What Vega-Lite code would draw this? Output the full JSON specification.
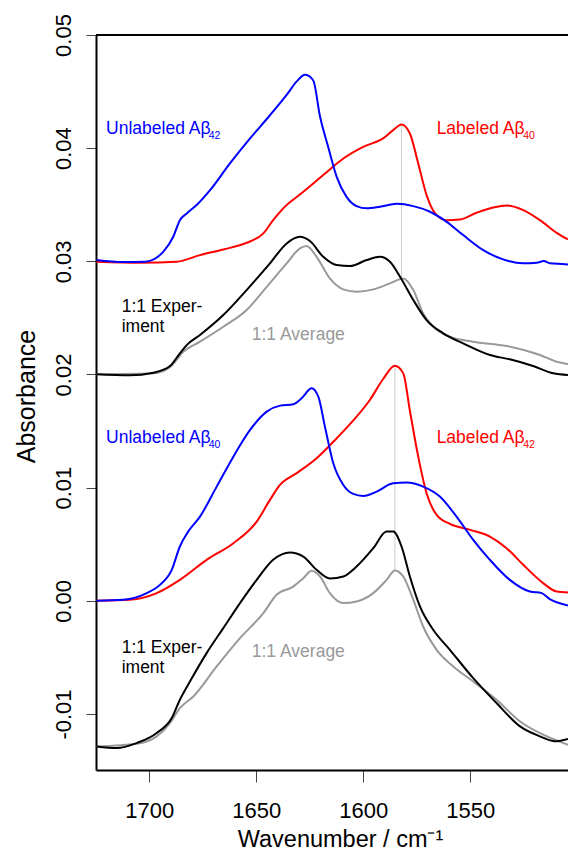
{
  "$schema": "https://vega.github.io/schema/vega-lite/v6.json",
  "width": 472,
  "height": 735,
  "autosize": {"type": "none"},
  "padding": {"left": 96, "top": 35, "right": 0, "bottom": 82},
  "background": "white",
  "config": {"view": {"stroke": null}, "font": "Liberation Sans"},
  "datasets": {
    "spectra": [
      {"panel":"a","kind":"average","wavenumber":1724.6,"absorbance":0.02002},
      {"panel":"a","kind":"average","wavenumber":1698.1,"absorbance":0.02011},
      {"panel":"a","kind":"average","wavenumber":1690.3,"absorbance":0.02064},
      {"panel":"a","kind":"average","wavenumber":1684.1,"absorbance":0.02201},
      {"panel":"a","kind":"average","wavenumber":1676.3,"absorbance":0.02290},
      {"panel":"a","kind":"average","wavenumber":1665.4,"absorbance":0.02422},
      {"panel":"a","kind":"average","wavenumber":1654.5,"absorbance":0.02570},
      {"panel":"a","kind":"average","wavenumber":1645.1,"absorbance":0.02775},
      {"panel":"a","kind":"average","wavenumber":1635.8,"absorbance":0.02982},
      {"panel":"a","kind":"average","wavenumber":1629.6,"absorbance":0.03114},
      {"panel":"a","kind":"average","wavenumber":1626.5,"absorbance":0.03135},
      {"panel":"a","kind":"average","wavenumber":1621.8,"absorbance":0.03040},
      {"panel":"a","kind":"average","wavenumber":1615.6,"absorbance":0.02849},
      {"panel":"a","kind":"average","wavenumber":1609.3,"absorbance":0.02752},
      {"panel":"a","kind":"average","wavenumber":1603.1,"absorbance":0.02731},
      {"panel":"a","kind":"average","wavenumber":1595.3,"absorbance":0.02752},
      {"panel":"a","kind":"average","wavenumber":1587.5,"absorbance":0.02805},
      {"panel":"a","kind":"average","wavenumber":1581.3,"absorbance":0.02849},
      {"panel":"a","kind":"average","wavenumber":1576.6,"absorbance":0.02746},
      {"panel":"a","kind":"average","wavenumber":1572.0,"absorbance":0.02540},
      {"panel":"a","kind":"average","wavenumber":1567.3,"absorbance":0.02422},
      {"panel":"a","kind":"average","wavenumber":1559.5,"absorbance":0.02334},
      {"panel":"a","kind":"average","wavenumber":1548.6,"absorbance":0.02290},
      {"panel":"a","kind":"average","wavenumber":1533.0,"absorbance":0.02252},
      {"panel":"a","kind":"average","wavenumber":1517.4,"absorbance":0.02172},
      {"panel":"a","kind":"average","wavenumber":1509.6,"absorbance":0.02113},
      {"panel":"a","kind":"average","wavenumber":1504.3,"absorbance":0.02093},

      {"panel":"a","kind":"experiment","wavenumber":1724.6,"absorbance":0.02002},
      {"panel":"a","kind":"experiment","wavenumber":1709.0,"absorbance":0.01993},
      {"panel":"a","kind":"experiment","wavenumber":1698.1,"absorbance":0.02016},
      {"panel":"a","kind":"experiment","wavenumber":1690.3,"absorbance":0.02075},
      {"panel":"a","kind":"experiment","wavenumber":1685.7,"absorbance":0.02187},
      {"panel":"a","kind":"experiment","wavenumber":1682.5,"absorbance":0.02260},
      {"panel":"a","kind":"experiment","wavenumber":1676.3,"absorbance":0.02349},
      {"panel":"a","kind":"experiment","wavenumber":1665.4,"absorbance":0.02525},
      {"panel":"a","kind":"experiment","wavenumber":1654.5,"absorbance":0.02746},
      {"panel":"a","kind":"experiment","wavenumber":1643.6,"absorbance":0.02982},
      {"panel":"a","kind":"experiment","wavenumber":1635.8,"absorbance":0.03158},
      {"panel":"a","kind":"experiment","wavenumber":1629.6,"absorbance":0.03217},
      {"panel":"a","kind":"experiment","wavenumber":1624.9,"absorbance":0.03179},
      {"panel":"a","kind":"experiment","wavenumber":1618.7,"absorbance":0.03040},
      {"panel":"a","kind":"experiment","wavenumber":1612.4,"absorbance":0.02967},
      {"panel":"a","kind":"experiment","wavenumber":1606.2,"absorbance":0.02958},
      {"panel":"a","kind":"experiment","wavenumber":1598.4,"absorbance":0.03011},
      {"panel":"a","kind":"experiment","wavenumber":1592.2,"absorbance":0.03040},
      {"panel":"a","kind":"experiment","wavenumber":1587.5,"absorbance":0.02996},
      {"panel":"a","kind":"experiment","wavenumber":1582.8,"absorbance":0.02864},
      {"panel":"a","kind":"experiment","wavenumber":1576.6,"absorbance":0.02658},
      {"panel":"a","kind":"experiment","wavenumber":1570.4,"absorbance":0.02481},
      {"panel":"a","kind":"experiment","wavenumber":1562.6,"absorbance":0.02364},
      {"panel":"a","kind":"experiment","wavenumber":1553.3,"absorbance":0.02275},
      {"panel":"a","kind":"experiment","wavenumber":1540.8,"absorbance":0.02172},
      {"panel":"a","kind":"experiment","wavenumber":1531.5,"absorbance":0.02134},
      {"panel":"a","kind":"experiment","wavenumber":1520.6,"absorbance":0.02075},
      {"panel":"a","kind":"experiment","wavenumber":1511.2,"absorbance":0.02011},
      {"panel":"a","kind":"experiment","wavenumber":1504.3,"absorbance":0.01996},

      {"panel":"a","kind":"labeled","wavenumber":1724.6,"absorbance":0.02996},
      {"panel":"a","kind":"labeled","wavenumber":1704.3,"absorbance":0.02987},
      {"panel":"a","kind":"labeled","wavenumber":1687.2,"absorbance":0.02996},
      {"panel":"a","kind":"labeled","wavenumber":1676.3,"absorbance":0.03055},
      {"panel":"a","kind":"labeled","wavenumber":1665.4,"absorbance":0.03105},
      {"panel":"a","kind":"labeled","wavenumber":1654.5,"absorbance":0.03164},
      {"panel":"a","kind":"labeled","wavenumber":1646.7,"absorbance":0.03247},
      {"panel":"a","kind":"labeled","wavenumber":1642.1,"absorbance":0.03364},
      {"panel":"a","kind":"labeled","wavenumber":1637.4,"absorbance":0.03468},
      {"panel":"a","kind":"labeled","wavenumber":1628.0,"absorbance":0.03614},
      {"panel":"a","kind":"labeled","wavenumber":1618.7,"absorbance":0.03762},
      {"panel":"a","kind":"labeled","wavenumber":1609.3,"absorbance":0.03909},
      {"panel":"a","kind":"labeled","wavenumber":1600.0,"absorbance":0.04012},
      {"panel":"a","kind":"labeled","wavenumber":1590.7,"absorbance":0.04086},
      {"panel":"a","kind":"labeled","wavenumber":1586.0,"absorbance":0.04159},
      {"panel":"a","kind":"labeled","wavenumber":1582.1,"absorbance":0.04209},
      {"panel":"a","kind":"labeled","wavenumber":1578.2,"absorbance":0.04130},
      {"panel":"a","kind":"labeled","wavenumber":1574.3,"absorbance":0.03865},
      {"panel":"a","kind":"labeled","wavenumber":1570.4,"absorbance":0.03585},
      {"panel":"a","kind":"labeled","wavenumber":1565.7,"absorbance":0.03408},
      {"panel":"a","kind":"labeled","wavenumber":1561.0,"absorbance":0.03364},
      {"panel":"a","kind":"labeled","wavenumber":1554.8,"absorbance":0.03370},
      {"panel":"a","kind":"labeled","wavenumber":1547.0,"absorbance":0.03429},
      {"panel":"a","kind":"labeled","wavenumber":1539.3,"absorbance":0.03476},
      {"panel":"a","kind":"labeled","wavenumber":1533.0,"absorbance":0.03494},
      {"panel":"a","kind":"labeled","wavenumber":1525.2,"absorbance":0.03453},
      {"panel":"a","kind":"labeled","wavenumber":1517.4,"absorbance":0.03364},
      {"panel":"a","kind":"labeled","wavenumber":1509.6,"absorbance":0.03252},
      {"panel":"a","kind":"labeled","wavenumber":1504.3,"absorbance":0.03194},

      {"panel":"a","kind":"unlabeled","wavenumber":1724.6,"absorbance":0.03011},
      {"panel":"a","kind":"unlabeled","wavenumber":1712.1,"absorbance":0.02993},
      {"panel":"a","kind":"unlabeled","wavenumber":1702.0,"absorbance":0.02996},
      {"panel":"a","kind":"unlabeled","wavenumber":1693.5,"absorbance":0.03084},
      {"panel":"a","kind":"unlabeled","wavenumber":1688.8,"absorbance":0.03217},
      {"panel":"a","kind":"unlabeled","wavenumber":1685.7,"absorbance":0.03364},
      {"panel":"a","kind":"unlabeled","wavenumber":1682.5,"absorbance":0.03423},
      {"panel":"a","kind":"unlabeled","wavenumber":1677.9,"absorbance":0.03497},
      {"panel":"a","kind":"unlabeled","wavenumber":1671.6,"absorbance":0.03629},
      {"panel":"a","kind":"unlabeled","wavenumber":1662.3,"absorbance":0.03865},
      {"panel":"a","kind":"unlabeled","wavenumber":1652.9,"absorbance":0.04086},
      {"panel":"a","kind":"unlabeled","wavenumber":1643.6,"absorbance":0.04291},
      {"panel":"a","kind":"unlabeled","wavenumber":1635.8,"absorbance":0.04470},
      {"panel":"a","kind":"unlabeled","wavenumber":1631.1,"absorbance":0.04590},
      {"panel":"a","kind":"unlabeled","wavenumber":1627.2,"absorbance":0.04648},
      {"panel":"a","kind":"unlabeled","wavenumber":1623.4,"absorbance":0.04600},
      {"panel":"a","kind":"unlabeled","wavenumber":1620.2,"absorbance":0.04280},
      {"panel":"a","kind":"unlabeled","wavenumber":1616.4,"absorbance":0.04012},
      {"panel":"a","kind":"unlabeled","wavenumber":1612.4,"absorbance":0.03747},
      {"panel":"a","kind":"unlabeled","wavenumber":1607.8,"absorbance":0.03570},
      {"panel":"a","kind":"unlabeled","wavenumber":1603.1,"absorbance":0.03488},
      {"panel":"a","kind":"unlabeled","wavenumber":1598.4,"absorbance":0.03468},
      {"panel":"a","kind":"unlabeled","wavenumber":1592.2,"absorbance":0.03482},
      {"panel":"a","kind":"unlabeled","wavenumber":1584.4,"absorbance":0.03508},
      {"panel":"a","kind":"unlabeled","wavenumber":1576.6,"absorbance":0.03488},
      {"panel":"a","kind":"unlabeled","wavenumber":1568.8,"absorbance":0.03438},
      {"panel":"a","kind":"unlabeled","wavenumber":1561.0,"absorbance":0.03349},
      {"panel":"a","kind":"unlabeled","wavenumber":1553.3,"absorbance":0.03232},
      {"panel":"a","kind":"unlabeled","wavenumber":1543.9,"absorbance":0.03099},
      {"panel":"a","kind":"unlabeled","wavenumber":1534.6,"absorbance":0.03017},
      {"panel":"a","kind":"unlabeled","wavenumber":1525.2,"absorbance":0.02982},
      {"panel":"a","kind":"unlabeled","wavenumber":1519.0,"absorbance":0.02987},
      {"panel":"a","kind":"unlabeled","wavenumber":1515.6,"absorbance":0.03002},
      {"panel":"a","kind":"unlabeled","wavenumber":1512.8,"absorbance":0.02982},
      {"panel":"a","kind":"unlabeled","wavenumber":1504.3,"absorbance":0.02973},

      {"panel":"b","kind":"average","wavenumber":1724.6,"absorbance":-0.01287},
      {"panel":"b","kind":"average","wavenumber":1705.9,"absorbance":-0.01263},
      {"panel":"b","kind":"average","wavenumber":1696.5,"absorbance":-0.01198},
      {"panel":"b","kind":"average","wavenumber":1690.3,"absorbance":-0.01080},
      {"panel":"b","kind":"average","wavenumber":1685.7,"absorbance":-0.00948},
      {"panel":"b","kind":"average","wavenumber":1679.4,"absorbance":-0.00845},
      {"panel":"b","kind":"average","wavenumber":1668.5,"absorbance":-0.00580},
      {"panel":"b","kind":"average","wavenumber":1657.6,"absorbance":-0.00330},
      {"panel":"b","kind":"average","wavenumber":1646.7,"absorbance":-0.00109},
      {"panel":"b","kind":"average","wavenumber":1640.5,"absorbance":0.00053},
      {"panel":"b","kind":"average","wavenumber":1632.7,"absorbance":0.00126},
      {"panel":"b","kind":"average","wavenumber":1628.0,"absorbance":0.00200},
      {"panel":"b","kind":"average","wavenumber":1624.1,"absorbance":0.00265},
      {"panel":"b","kind":"average","wavenumber":1620.2,"absorbance":0.00215},
      {"panel":"b","kind":"average","wavenumber":1615.6,"absorbance":0.00068},
      {"panel":"b","kind":"average","wavenumber":1609.3,"absorbance":-0.00020},
      {"panel":"b","kind":"average","wavenumber":1603.1,"absorbance":-0.00006},
      {"panel":"b","kind":"average","wavenumber":1595.3,"absorbance":0.00068},
      {"panel":"b","kind":"average","wavenumber":1589.1,"absorbance":0.00185},
      {"panel":"b","kind":"average","wavenumber":1585.2,"absorbance":0.00268},
      {"panel":"b","kind":"average","wavenumber":1581.3,"absorbance":0.00215},
      {"panel":"b","kind":"average","wavenumber":1576.6,"absorbance":0.00009},
      {"panel":"b","kind":"average","wavenumber":1572.0,"absorbance":-0.00227},
      {"panel":"b","kind":"average","wavenumber":1565.7,"absorbance":-0.00433},
      {"panel":"b","kind":"average","wavenumber":1557.9,"absorbance":-0.00580},
      {"panel":"b","kind":"average","wavenumber":1548.6,"absorbance":-0.00713},
      {"panel":"b","kind":"average","wavenumber":1537.7,"absorbance":-0.00874},
      {"panel":"b","kind":"average","wavenumber":1526.7,"absorbance":-0.01066},
      {"panel":"b","kind":"average","wavenumber":1515.9,"absorbance":-0.01183},
      {"panel":"b","kind":"average","wavenumber":1504.3,"absorbance":-0.01272},

      {"panel":"b","kind":"experiment","wavenumber":1724.6,"absorbance":-0.01287},
      {"panel":"b","kind":"experiment","wavenumber":1715.2,"absorbance":-0.01301},
      {"panel":"b","kind":"experiment","wavenumber":1705.9,"absorbance":-0.01257},
      {"panel":"b","kind":"experiment","wavenumber":1696.5,"absorbance":-0.01168},
      {"panel":"b","kind":"experiment","wavenumber":1689.5,"absorbance":-0.01036},
      {"panel":"b","kind":"experiment","wavenumber":1685.7,"absorbance":-0.00874},
      {"panel":"b","kind":"experiment","wavenumber":1681.0,"absorbance":-0.00713},
      {"panel":"b","kind":"experiment","wavenumber":1673.2,"absorbance":-0.00462},
      {"panel":"b","kind":"experiment","wavenumber":1665.4,"absorbance":-0.00241},
      {"panel":"b","kind":"experiment","wavenumber":1657.6,"absorbance":-0.00020},
      {"panel":"b","kind":"experiment","wavenumber":1649.8,"absorbance":0.00185},
      {"panel":"b","kind":"experiment","wavenumber":1642.1,"absorbance":0.00362},
      {"panel":"b","kind":"experiment","wavenumber":1634.3,"absorbance":0.00427},
      {"panel":"b","kind":"experiment","wavenumber":1628.0,"absorbance":0.00391},
      {"panel":"b","kind":"experiment","wavenumber":1621.8,"absorbance":0.00274},
      {"panel":"b","kind":"experiment","wavenumber":1615.6,"absorbance":0.00197},
      {"panel":"b","kind":"experiment","wavenumber":1609.3,"absorbance":0.00215},
      {"panel":"b","kind":"experiment","wavenumber":1603.1,"absorbance":0.00303},
      {"panel":"b","kind":"experiment","wavenumber":1595.3,"absorbance":0.00465},
      {"panel":"b","kind":"experiment","wavenumber":1589.1,"absorbance":0.00612},
      {"panel":"b","kind":"experiment","wavenumber":1586.0,"absorbance":0.00612},
      {"panel":"b","kind":"experiment","wavenumber":1582.1,"absorbance":0.00480},
      {"panel":"b","kind":"experiment","wavenumber":1578.2,"absorbance":0.00215},
      {"panel":"b","kind":"experiment","wavenumber":1573.5,"absorbance":-0.00050},
      {"panel":"b","kind":"experiment","wavenumber":1567.3,"absorbance":-0.00256},
      {"panel":"b","kind":"experiment","wavenumber":1559.5,"absorbance":-0.00433},
      {"panel":"b","kind":"experiment","wavenumber":1548.6,"absorbance":-0.00683},
      {"panel":"b","kind":"experiment","wavenumber":1537.7,"absorbance":-0.00903},
      {"panel":"b","kind":"experiment","wavenumber":1526.7,"absorbance":-0.01110},
      {"panel":"b","kind":"experiment","wavenumber":1517.4,"absorbance":-0.01198},
      {"panel":"b","kind":"experiment","wavenumber":1510.4,"absorbance":-0.01242},
      {"panel":"b","kind":"experiment","wavenumber":1504.3,"absorbance":-0.01221},

      {"panel":"b","kind":"labeled","wavenumber":1724.6,"absorbance":0.00000},
      {"panel":"b","kind":"labeled","wavenumber":1709.0,"absorbance":0.00009},
      {"panel":"b","kind":"labeled","wavenumber":1696.5,"absorbance":0.00068},
      {"panel":"b","kind":"labeled","wavenumber":1685.7,"absorbance":0.00185},
      {"panel":"b","kind":"labeled","wavenumber":1673.2,"absorbance":0.00362},
      {"panel":"b","kind":"labeled","wavenumber":1660.7,"absorbance":0.00509},
      {"panel":"b","kind":"labeled","wavenumber":1649.8,"absorbance":0.00700},
      {"panel":"b","kind":"labeled","wavenumber":1643.6,"absorbance":0.00892},
      {"panel":"b","kind":"labeled","wavenumber":1638.9,"absorbance":0.01024},
      {"panel":"b","kind":"labeled","wavenumber":1631.1,"absorbance":0.01128},
      {"panel":"b","kind":"labeled","wavenumber":1621.8,"absorbance":0.01260},
      {"panel":"b","kind":"labeled","wavenumber":1612.4,"absorbance":0.01437},
      {"panel":"b","kind":"labeled","wavenumber":1603.1,"absorbance":0.01627},
      {"panel":"b","kind":"labeled","wavenumber":1596.9,"absorbance":0.01775},
      {"panel":"b","kind":"labeled","wavenumber":1590.7,"absorbance":0.01960},
      {"panel":"b","kind":"labeled","wavenumber":1585.2,"absorbance":0.02077},
      {"panel":"b","kind":"labeled","wavenumber":1581.3,"absorbance":0.02010},
      {"panel":"b","kind":"labeled","wavenumber":1578.2,"absorbance":0.01680},
      {"panel":"b","kind":"labeled","wavenumber":1574.3,"absorbance":0.01274},
      {"panel":"b","kind":"labeled","wavenumber":1570.4,"absorbance":0.00951},
      {"panel":"b","kind":"labeled","wavenumber":1565.7,"absorbance":0.00759},
      {"panel":"b","kind":"labeled","wavenumber":1559.5,"absorbance":0.00680},
      {"panel":"b","kind":"labeled","wavenumber":1550.1,"absorbance":0.00627},
      {"panel":"b","kind":"labeled","wavenumber":1540.8,"absorbance":0.00568},
      {"panel":"b","kind":"labeled","wavenumber":1533.0,"absorbance":0.00465},
      {"panel":"b","kind":"labeled","wavenumber":1525.2,"absorbance":0.00318},
      {"panel":"b","kind":"labeled","wavenumber":1515.9,"absorbance":0.00156},
      {"panel":"b","kind":"labeled","wavenumber":1509.6,"absorbance":0.00082},
      {"panel":"b","kind":"labeled","wavenumber":1504.3,"absorbance":0.00074},

      {"panel":"b","kind":"unlabeled","wavenumber":1724.6,"absorbance":0.00000},
      {"panel":"b","kind":"unlabeled","wavenumber":1712.1,"absorbance":0.00009},
      {"panel":"b","kind":"unlabeled","wavenumber":1701.2,"absorbance":0.00068},
      {"panel":"b","kind":"unlabeled","wavenumber":1695.0,"absorbance":0.00141},
      {"panel":"b","kind":"unlabeled","wavenumber":1689.5,"absorbance":0.00274},
      {"panel":"b","kind":"unlabeled","wavenumber":1685.7,"absorbance":0.00480},
      {"panel":"b","kind":"unlabeled","wavenumber":1681.8,"absorbance":0.00612},
      {"panel":"b","kind":"unlabeled","wavenumber":1676.3,"absorbance":0.00744},
      {"panel":"b","kind":"unlabeled","wavenumber":1668.5,"absorbance":0.01009},
      {"panel":"b","kind":"unlabeled","wavenumber":1660.7,"absorbance":0.01274},
      {"panel":"b","kind":"unlabeled","wavenumber":1652.9,"absorbance":0.01510},
      {"panel":"b","kind":"unlabeled","wavenumber":1645.1,"absorbance":0.01672},
      {"panel":"b","kind":"unlabeled","wavenumber":1638.9,"absorbance":0.01725},
      {"panel":"b","kind":"unlabeled","wavenumber":1632.7,"absorbance":0.01737},
      {"panel":"b","kind":"unlabeled","wavenumber":1628.8,"absorbance":0.01790},
      {"panel":"b","kind":"unlabeled","wavenumber":1624.1,"absorbance":0.01878},
      {"panel":"b","kind":"unlabeled","wavenumber":1621.0,"absorbance":0.01804},
      {"panel":"b","kind":"unlabeled","wavenumber":1617.9,"absorbance":0.01539},
      {"panel":"b","kind":"unlabeled","wavenumber":1614.0,"absorbance":0.01216},
      {"panel":"b","kind":"unlabeled","wavenumber":1609.3,"absorbance":0.01024},
      {"panel":"b","kind":"unlabeled","wavenumber":1604.7,"absorbance":0.00945},
      {"panel":"b","kind":"unlabeled","wavenumber":1600.0,"absorbance":0.00927},
      {"panel":"b","kind":"unlabeled","wavenumber":1593.7,"absorbance":0.00965},
      {"panel":"b","kind":"unlabeled","wavenumber":1586.0,"absorbance":0.01039},
      {"panel":"b","kind":"unlabeled","wavenumber":1579.7,"absorbance":0.01045},
      {"panel":"b","kind":"unlabeled","wavenumber":1572.0,"absorbance":0.01009},
      {"panel":"b","kind":"unlabeled","wavenumber":1564.2,"absorbance":0.00921},
      {"panel":"b","kind":"unlabeled","wavenumber":1556.4,"absorbance":0.00744},
      {"panel":"b","kind":"unlabeled","wavenumber":1548.6,"absorbance":0.00539},
      {"panel":"b","kind":"unlabeled","wavenumber":1540.8,"absorbance":0.00362},
      {"panel":"b","kind":"unlabeled","wavenumber":1531.5,"absorbance":0.00185},
      {"panel":"b","kind":"unlabeled","wavenumber":1522.1,"absorbance":0.00082},
      {"panel":"b","kind":"unlabeled","wavenumber":1516.6,"absorbance":0.00068},
      {"panel":"b","kind":"unlabeled","wavenumber":1512.8,"absorbance":0.00015},
      {"panel":"b","kind":"unlabeled","wavenumber":1504.3,"absorbance":-0.00041}
    ],
    "markers": [
      {"wavenumber":1582.1,"low":0.02849,"high":0.04209},
      {"wavenumber":1585.2,"low":0.00268,"high":0.02077}
    ],
    "frame": [
      {"absorbance":0.05}
    ],
    "labels": [
      {"kind":"unlabeled","wavenumber":1720.2,"absorbance":0.04124,"label":"Unlabeled Aβ"},
      {"kind":"labeled","wavenumber":1565.7,"absorbance":0.04124,"label":"Labeled Aβ"},
      {"kind":"experiment","wavenumber":1712.9,"absorbance":0.02554,"label":"1:1 Exper-"},
      {"kind":"experiment","wavenumber":1712.9,"absorbance":0.02377,"label":"iment"},
      {"kind":"average","wavenumber":1652.1,"absorbance":0.02306,"label":"1:1 Average"},
      {"kind":"unlabeled","wavenumber":1720.2,"absorbance":0.01393,"label":"Unlabeled Aβ"},
      {"kind":"labeled","wavenumber":1565.7,"absorbance":0.01393,"label":"Labeled Aβ"},
      {"kind":"experiment","wavenumber":1712.9,"absorbance":-0.00457,"label":"1:1 Exper-"},
      {"kind":"experiment","wavenumber":1712.9,"absorbance":-0.00634,"label":"iment"},
      {"kind":"average","wavenumber":1652.1,"absorbance":-0.00497,"label":"1:1 Average"}
    ],
    "subscripts": [
      {"kind":"unlabeled","wavenumber":1672.2,"absorbance":0.04082,"label":"42"},
      {"kind":"labeled","wavenumber":1525.2,"absorbance":0.04082,"label":"40"},
      {"kind":"unlabeled","wavenumber":1672.2,"absorbance":0.01352,"label":"40"},
      {"kind":"labeled","wavenumber":1525.2,"absorbance":0.01352,"label":"42"}
    ]
  },
  "layer": [
    {
      "data": {"name": "markers"},
      "mark": {"type": "rule", "color": "#cccccc", "strokeWidth": 1},
      "encoding": {
        "x": {
          "field": "wavenumber", "type": "quantitative",
          "scale": {"domain": [1504.3, 1724.9], "reverse": true, "nice": false, "zero": false},
          "axis": {
            "title": "Wavenumber / cm⁻¹",
            "values": [1550, 1600, 1650, 1700],
            "format": "d",
            "grid": false,
            "domainColor": "black", "domainWidth": 2,
            "tickColor": "#444444", "tickWidth": 1, "tickSize": 12,
            "labelPadding": 35, "labelBaseline": "alphabetic", "labelAlign": "center",
            "labelFont": "Liberation Sans", "labelFontSize": 22, "labelColor": "black",
            "labelFlush": false, "labelOverlap": false,
            "titleFont": "Liberation Sans", "titleFontSize": 23.5, "titleFontWeight": "normal", "titleColor": "black",
            "titleBaseline": "alphabetic", "titleAlign": "center", "titleX": 244, "titleY": 76
          }
        },
        "y": {
          "field": "low", "type": "quantitative",
          "scale": {"domain": [-0.01495, 0.05], "nice": false, "zero": false},
          "axis": {
            "title": "Absorbance",
            "values": [-0.01, 0, 0.01, 0.02, 0.03, 0.04, 0.05],
            "labelExpr": "replace(format(datum.value, '.2f'), '−', '-')",
            "grid": false,
            "domainColor": "black", "domainWidth": 2,
            "tickColor": "#444444", "tickWidth": 1, "tickSize": 10,
            "labelAngle": -90, "labelAlign": "center", "labelBaseline": "alphabetic", "labelPadding": 16,
            "labelFont": "Liberation Sans", "labelFontSize": 22, "labelColor": "black",
            "labelFlush": false, "labelOverlap": false,
            "titleFont": "Liberation Sans", "titleFontSize": 25, "titleFontWeight": "normal", "titleColor": "black",
            "titleAngle": -90, "titleBaseline": "alphabetic", "titleAlign": "center", "titleX": -62, "titleY": 361
          }
        },
        "y2": {"field": "high"}
      }
    },
    {
      "data": {"name": "spectra"},
      "mark": {"type": "line", "strokeWidth": 2, "interpolate": "monotone", "clip": true},
      "encoding": {
        "x": {"field": "wavenumber", "type": "quantitative", "scale": {"domain": [1504.3, 1724.9], "reverse": true, "nice": false, "zero": false}},
        "y": {"field": "absorbance", "type": "quantitative", "scale": {"domain": [-0.01495, 0.05], "nice": false, "zero": false}},
        "color": {
          "field": "kind", "type": "nominal",
          "scale": {"domain": ["unlabeled", "labeled", "experiment", "average"], "range": ["#0000ff", "#ff0000", "#000000", "#999999"]},
          "legend": null
        },
        "detail": {"field": "panel", "type": "nominal"}
      }
    },
    {
      "data": {"name": "frame"},
      "mark": {"type": "rule", "color": "black", "strokeWidth": 2},
      "encoding": {
        "y": {"field": "absorbance", "type": "quantitative", "scale": {"domain": [-0.01495, 0.05], "nice": false, "zero": false}}
      }
    },
    {
      "data": {"name": "labels"},
      "mark": {"type": "text", "align": "left", "baseline": "alphabetic", "font": "Liberation Sans", "fontSize": 17.5},
      "encoding": {
        "x": {"field": "wavenumber", "type": "quantitative", "scale": {"domain": [1504.3, 1724.9], "reverse": true, "nice": false, "zero": false}},
        "y": {"field": "absorbance", "type": "quantitative", "scale": {"domain": [-0.01495, 0.05], "nice": false, "zero": false}},
        "text": {"field": "label"},
        "color": {"field": "kind", "type": "nominal", "scale": {"domain": ["unlabeled", "labeled", "experiment", "average"], "range": ["#0000ff", "#ff0000", "#000000", "#999999"]}, "legend": null}
      }
    },
    {
      "data": {"name": "subscripts"},
      "mark": {"type": "text", "align": "left", "baseline": "alphabetic", "font": "Liberation Sans", "fontSize": 10.5},
      "encoding": {
        "x": {"field": "wavenumber", "type": "quantitative", "scale": {"domain": [1504.3, 1724.9], "reverse": true, "nice": false, "zero": false}},
        "y": {"field": "absorbance", "type": "quantitative", "scale": {"domain": [-0.01495, 0.05], "nice": false, "zero": false}},
        "text": {"field": "label"},
        "color": {"field": "kind", "type": "nominal", "scale": {"domain": ["unlabeled", "labeled", "experiment", "average"], "range": ["#0000ff", "#ff0000", "#000000", "#999999"]}, "legend": null}
      }
    }
  ]
}
